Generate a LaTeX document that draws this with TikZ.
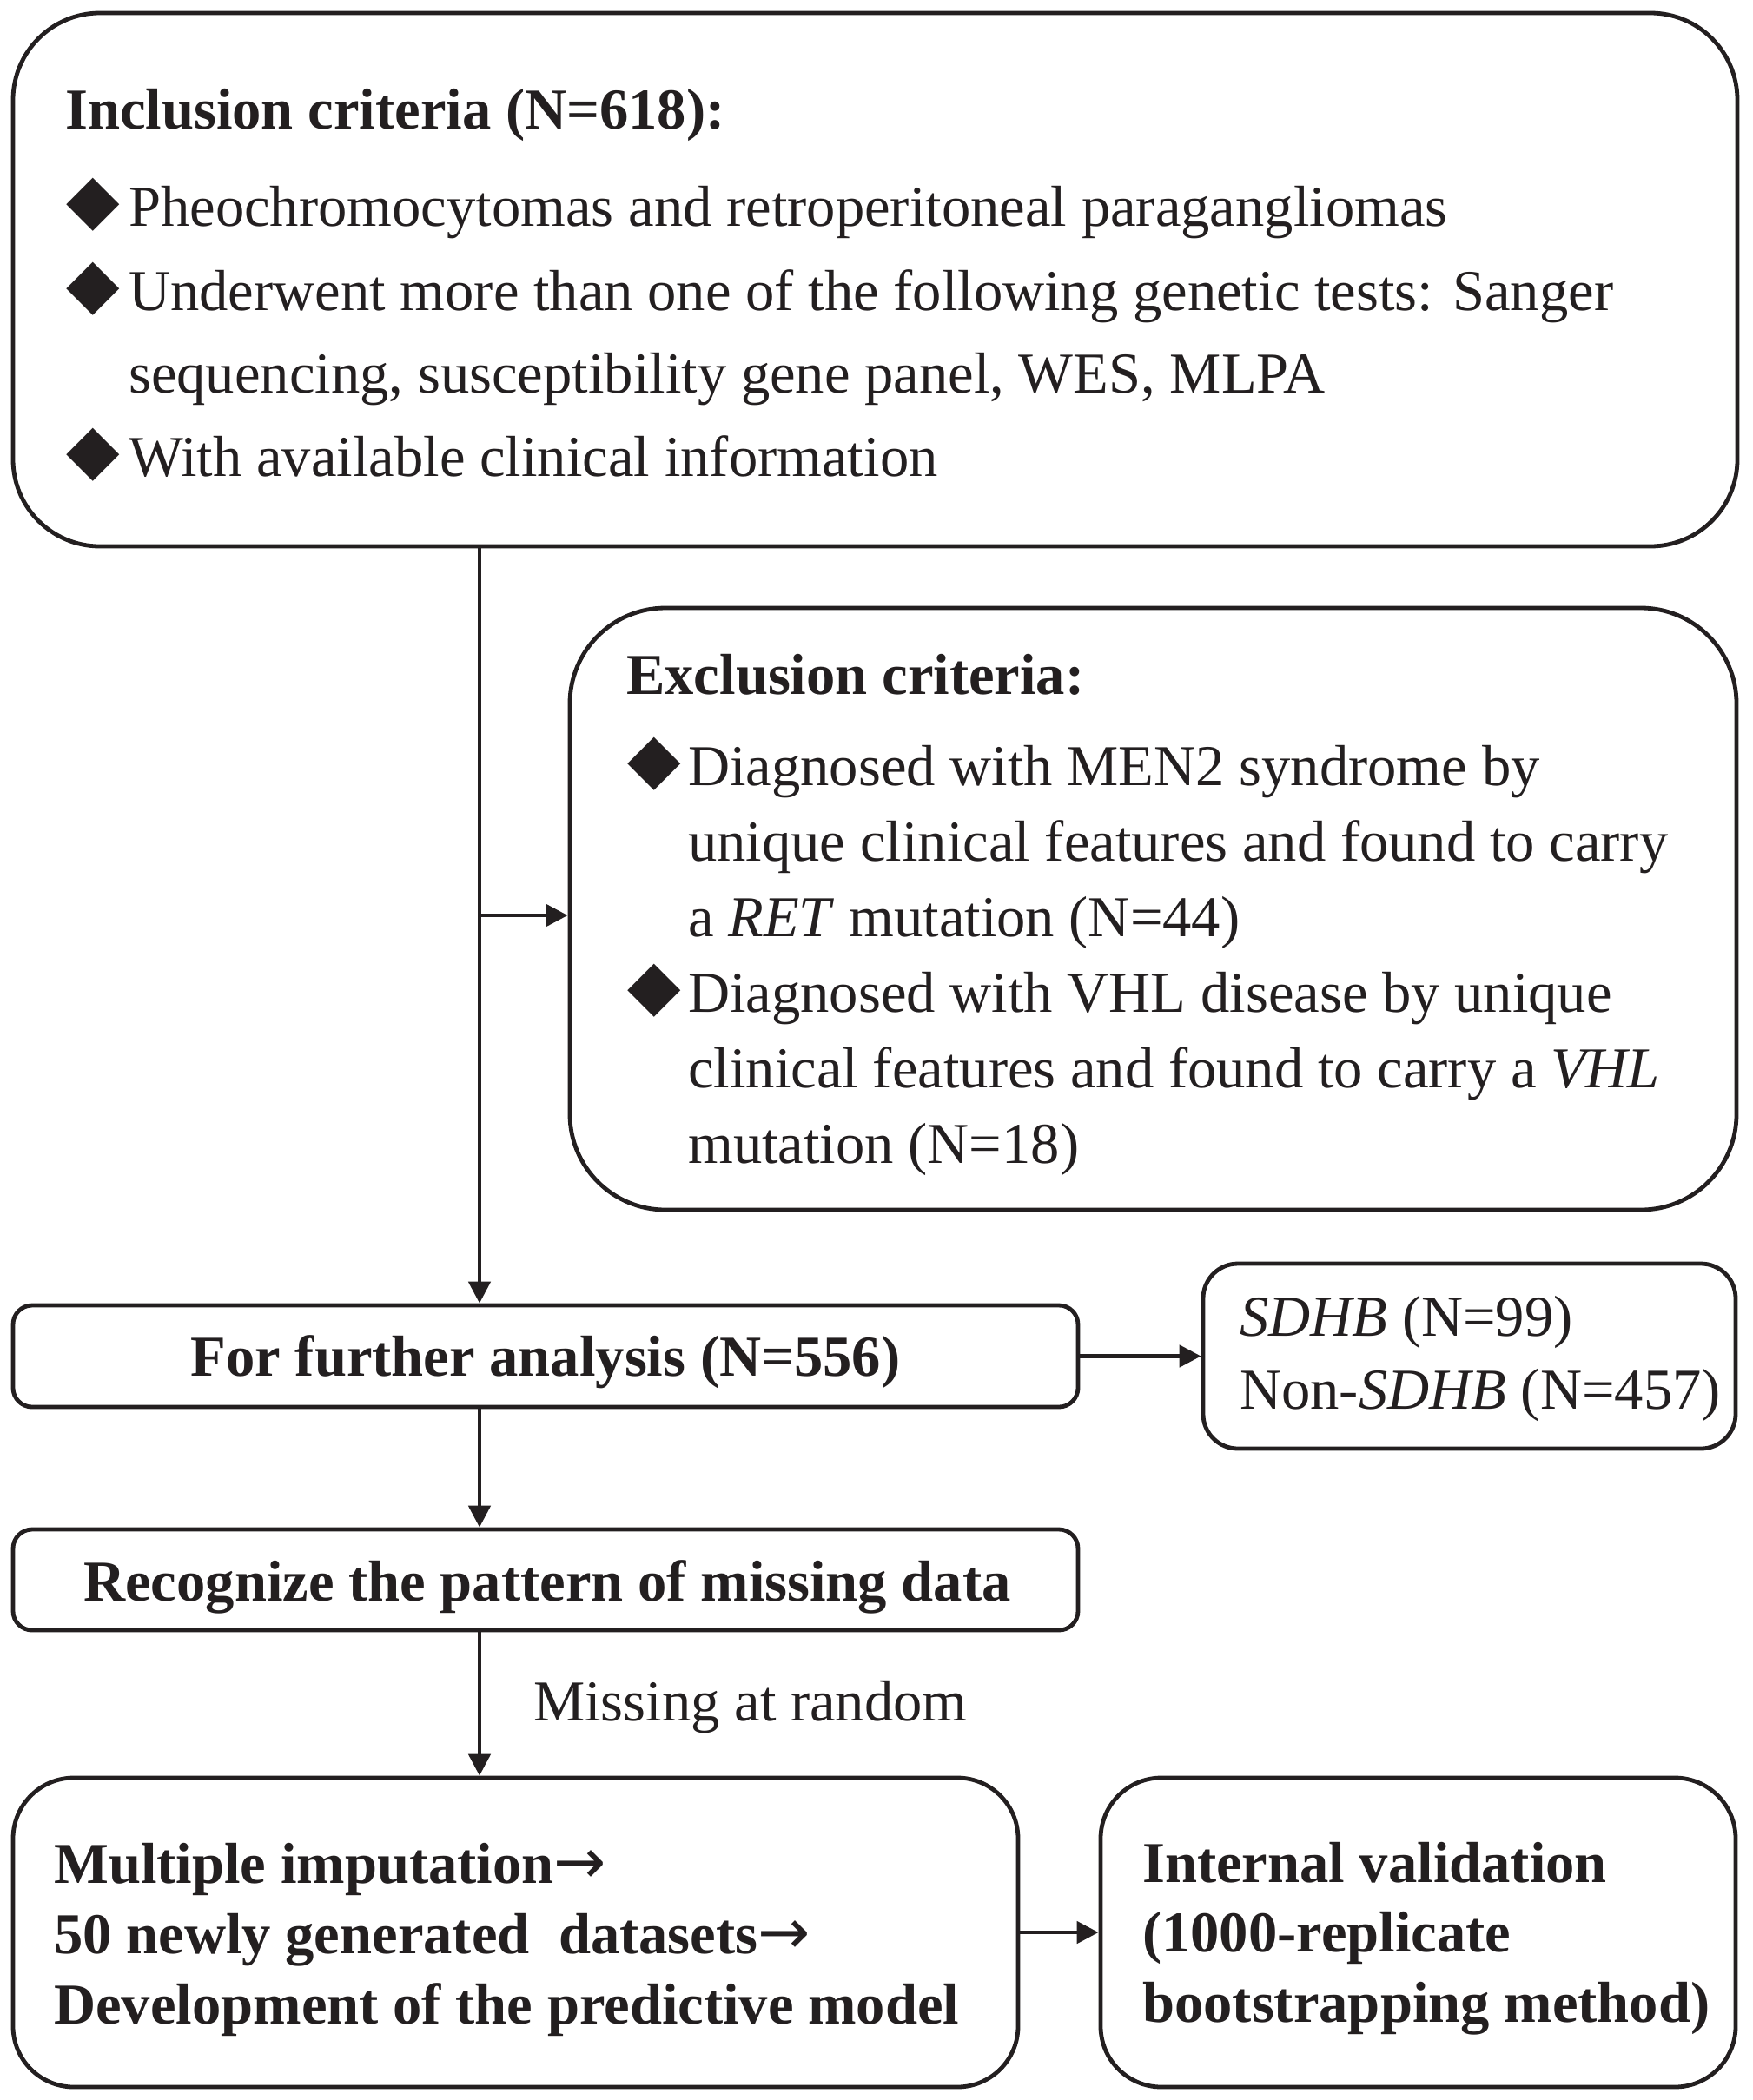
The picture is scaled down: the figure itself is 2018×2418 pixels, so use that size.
\documentclass[tikz,border=0pt]{standalone}
\usepackage{fontspec}
\setmainfont{Liberation Serif}
\newfontfamily\symfont{DejaVu Sans}
\usetikzlibrary{arrows.meta}
\definecolor{ink}{HTML}{231F20}
\newcommand\mytxt{\fontsize{66.6pt}{80pt}\selectfont}
\newcommand\mybold{\fontsize{66.6pt}{80pt}\selectfont\bfseries}
\newcommand\mybul{\symfont\fontsize{80pt}{80pt}\selectfont}
\newcommand\myarrow{{\symfont\mdseries\fontsize{72pt}{80pt}\selectfont →}}
\begin{document}
\begin{tikzpicture}[x=1pt,y=-1pt,
  box/.style={draw=ink, line width=4.8pt, rectangle, inner sep=0pt},
  arr/.style={draw=ink, line width=4.8pt, -{Triangle[length=25pt,width=25pt]}},
  txt/.style={anchor=base west, inner sep=0pt, text=ink, font=\mytxt},
  btxt/.style={anchor=base west, inner sep=0pt, text=ink, font=\mybold},
  ctxt/.style={anchor=base, inner sep=0pt, text=ink, font=\mybold},
  bul/.style={anchor=center, inner sep=0pt, text=ink, font=\mybul}]
\useasboundingbox (0,0) rectangle (2018,2418);

% boxes
\node[box, rounded corners=100pt, minimum width=1985pt, minimum height=614pt] (inc) at (1007.5,322) {};
\node[box, rounded corners=110pt, minimum width=1343pt, minimum height=693pt] (exc) at (1327.5,1046.5) {};
\node[box, rounded corners=22pt, minimum width=1226pt, minimum height=117pt] (fa) at (628,1561.5) {};
\node[box, rounded corners=40pt, minimum width=613pt, minimum height=213pt] (sd) at (1691.5,1561.5) {};
\node[box, rounded corners=22pt, minimum width=1226pt, minimum height=116pt] (rec) at (628,1819) {};
\node[box, rounded corners=70pt, minimum width=1157pt, minimum height=356pt] (mi) at (593.5,2225) {};
\node[box, rounded corners=70pt, minimum width=731pt, minimum height=356pt] (iv) at (1632.5,2225) {};

% inclusion text
\node[btxt] (inct) at (75,148) {Inclusion criteria (N=618):};
\node[bul] (ib1) at (107,236) {◆};
\node[txt] (i1) at (148,260) {Pheochromocytomas and retroperitoneal paragangliomas};
\node[bul] (ib2) at (107,333) {◆};
\node[txt] (i2) at (148,357) {Underwent more than one of the following genetic tests: Sanger};
\node[txt] (i3) at (148,452) {sequencing, susceptibility gene panel, WES, MLPA};
\node[bul] (ib3) at (107,524) {◆};
\node[txt] (i4) at (148,548) {With available clinical information};

% exclusion text
\node[btxt] (exct) at (721,799) {Exclusion criteria:};
\node[bul] (eb1) at (753,880) {◆};
\node[txt] (e1) at (792,904) {Diagnosed with MEN2 syndrome by};
\node[txt] (e2) at (792,991) {unique clinical features and found to carry};
\node[txt] (e3) at (792,1078) {a \textit{RET} mutation (N=44)};
\node[bul] (eb2) at (753,1141) {◆};
\node[txt] (e4) at (792,1165) {Diagnosed with VHL disease by unique};
\node[txt] (e5) at (792,1252) {clinical features and found to carry a \textit{VHL}};
\node[txt] (e6) at (792,1339) {mutation (N=18)};

% further analysis
\node[ctxt] (fat) at (628,1584) {For further analysis (N=556)};
\node[txt] (sd1) at (1427,1538) {\textit{SDHB} (N=99)};
\node[txt] (sd2) at (1427,1622) {Non-\textit{SDHB} (N=457)};
\node[ctxt] (rect) at (630,1843) {Recognize the pattern of missing data};
\node[txt] (mar) at (614,1981) {Missing at random};

% bottom boxes
\node[btxt] (m1) at (62,2168) {Multiple imputation\myarrow};
\node[btxt] (m2) at (62,2249) {50 newly generated~\ datasets\myarrow};
\node[btxt] (m3) at (62,2330) {Development of the predictive model};
\node[btxt] (v1) at (1315,2167) {Internal validation};
\node[btxt] (v2) at (1315,2247) {(1000-replicate};
\node[btxt] (v3) at (1315,2328) {bootstrapping method)};

% connectors
\coordinate (tx) at (552,0);
\coordinate (br) at (552,1054);
\draw[arr] (inc.south -| tx) -- (fa.north -| tx);
\draw[arr] (br) -- (br -| exc.west);
\draw[arr] (fa.east) -- (sd.west);
\draw[arr] (fa.south -| tx) -- (rec.north -| tx);
\draw[arr] (rec.south -| tx) -- (mi.north -| tx);
\draw[arr] (mi.east) -- (iv.west);
\end{tikzpicture}
\end{document}
